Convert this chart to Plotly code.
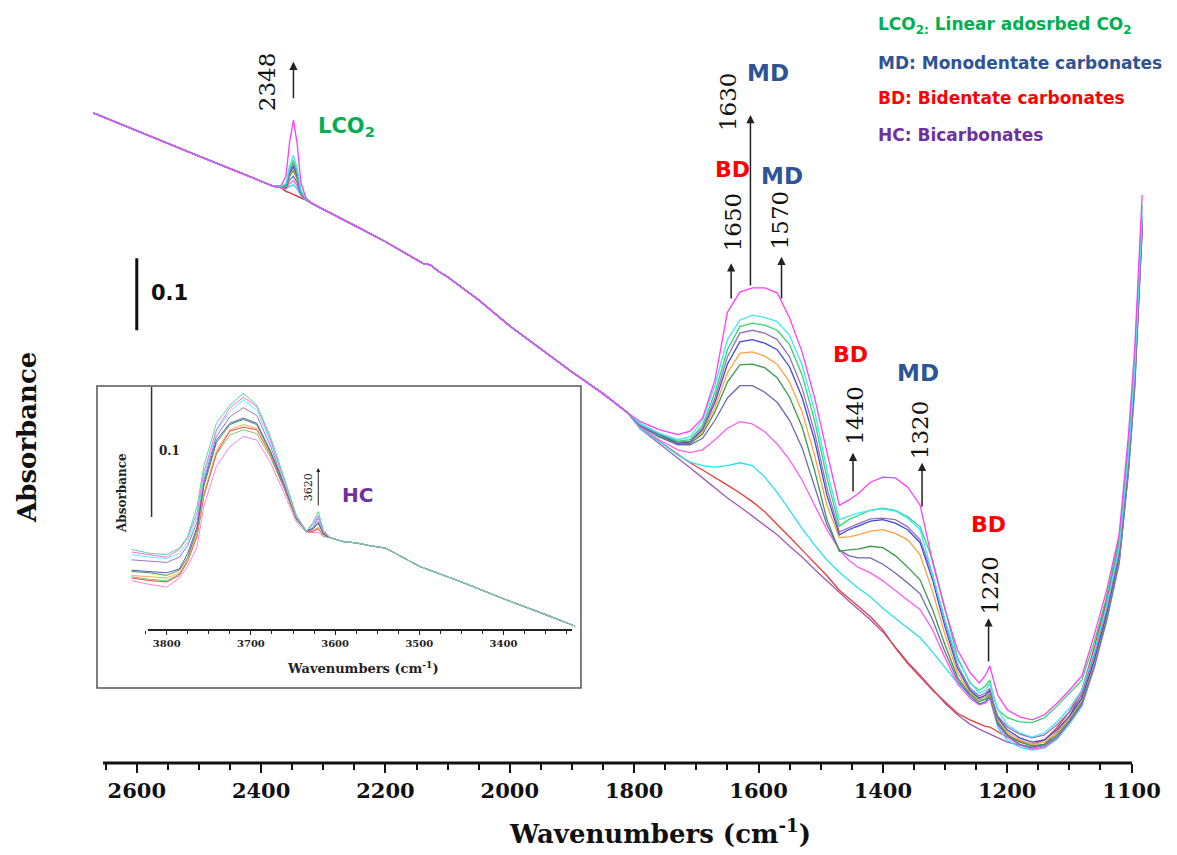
import plotly.graph_objects as go

# ---------------- main spectra (wavenumber cm-1, absorbance) ----------------
PRE_WN = [2670, 2600, 2500, 2420, 2380]
PRE_ABS = [0.903, 0.878, 0.843, 0.815, 0.801]
PEAK_WN = [2368, 2360, 2354, 2348, 2342, 2336, 2328]
MID_WN = [2320, 2300, 2250, 2200, 2160, 2140, 2128, 2115, 2100, 2050, 2000, 1950, 1900, 1850, 1810]
MID_ABS = [0.778, 0.769, 0.747, 0.724, 0.704, 0.694, 0.692, 0.683, 0.675, 0.643, 0.607, 0.575, 0.543, 0.513, 0.486]
BAND_WN = [1790, 1760, 1730, 1710, 1690, 1670, 1650, 1630, 1610, 1590, 1570, 1550, 1530, 1510, 1490,
           1470, 1455, 1440, 1420, 1400, 1380, 1360, 1340, 1320, 1300, 1280, 1260, 1245, 1235, 1228,
           1222, 1215, 1200, 1180, 1160, 1140, 1120, 1100, 1080, 1060, 1040, 1020, 1005, 995, 983]

S01_PEAK = [0.802, 0.815, 0.864, 0.893, 0.860, 0.806, 0.785]
S01_BAND = [0.474, 0.463, 0.456, 0.461, 0.479, 0.532, 0.626, 0.654, 0.660, 0.660, 0.653, 0.618, 0.571, 0.508, 0.432,
            0.358, 0.365, 0.374, 0.390, 0.397, 0.396, 0.383, 0.358, 0.279, 0.213, 0.157, 0.126, 0.111, 0.122, 0.135,
            0.115, 0.094, 0.074, 0.064, 0.060, 0.067, 0.083, 0.101, 0.121, 0.178, 0.240, 0.317, 0.456, 0.574, 0.789]
S02_PEAK = [0.801, 0.805, 0.830, 0.844, 0.826, 0.796, 0.784]
S02_BAND = [0.471, 0.458, 0.449, 0.453, 0.476, 0.525, 0.588, 0.615, 0.622, 0.619, 0.613, 0.594, 0.553, 0.490, 0.407,
            0.338, 0.343, 0.347, 0.351, 0.353, 0.350, 0.340, 0.324, 0.261, 0.199, 0.143, 0.113, 0.097, 0.101, 0.111,
            0.094, 0.074, 0.053, 0.042, 0.036, 0.042, 0.057, 0.076, 0.101, 0.154, 0.219, 0.299, 0.428, 0.546, 0.761]
S03_PEAK = [0.800, 0.803, 0.825, 0.837, 0.821, 0.794, 0.783]
S03_BAND = [0.471, 0.458, 0.447, 0.449, 0.469, 0.515, 0.574, 0.606, 0.611, 0.608, 0.601, 0.581, 0.539, 0.476, 0.396,
            0.329, 0.338, 0.344, 0.351, 0.354, 0.351, 0.342, 0.328, 0.282, 0.213, 0.147, 0.111, 0.101, 0.107, 0.115,
            0.092, 0.074, 0.063, 0.057, 0.056, 0.063, 0.079, 0.097, 0.115, 0.168, 0.231, 0.310, 0.442, 0.560, 0.775]
S04_PEAK = [0.800, 0.803, 0.822, 0.833, 0.818, 0.794, 0.783]
S04_BAND = [0.469, 0.457, 0.446, 0.447, 0.465, 0.507, 0.564, 0.597, 0.601, 0.597, 0.588, 0.564, 0.521, 0.460, 0.382,
            0.321, 0.326, 0.332, 0.339, 0.340, 0.338, 0.328, 0.310, 0.261, 0.196, 0.136, 0.104, 0.093, 0.097, 0.104,
            0.083, 0.065, 0.050, 0.040, 0.035, 0.039, 0.053, 0.071, 0.094, 0.150, 0.213, 0.292, 0.421, 0.539, 0.754]
S05_PEAK = [0.800, 0.802, 0.819, 0.829, 0.815, 0.793, 0.783]
S05_BAND = [0.469, 0.456, 0.444, 0.446, 0.463, 0.501, 0.554, 0.585, 0.588, 0.583, 0.574, 0.550, 0.508, 0.449, 0.372,
            0.317, 0.324, 0.329, 0.336, 0.338, 0.333, 0.324, 0.306, 0.254, 0.189, 0.132, 0.101, 0.090, 0.094, 0.101,
            0.081, 0.063, 0.046, 0.035, 0.029, 0.032, 0.046, 0.065, 0.090, 0.143, 0.208, 0.288, 0.418, 0.535, 0.751]
S06_PEAK = [0.800, 0.801, 0.817, 0.826, 0.813, 0.792, 0.783]
S06_BAND = [0.469, 0.456, 0.444, 0.446, 0.460, 0.494, 0.542, 0.569, 0.571, 0.565, 0.554, 0.529, 0.488, 0.428, 0.358,
            0.313, 0.314, 0.317, 0.322, 0.324, 0.319, 0.310, 0.289, 0.238, 0.178, 0.125, 0.099, 0.088, 0.092, 0.099,
            0.078, 0.060, 0.043, 0.032, 0.026, 0.029, 0.042, 0.063, 0.088, 0.140, 0.206, 0.285, 0.414, 0.532, 0.749]
S07_PEAK = [0.800, 0.801, 0.815, 0.823, 0.811, 0.792, 0.783]
S07_BAND = [0.469, 0.454, 0.444, 0.444, 0.457, 0.488, 0.529, 0.553, 0.554, 0.549, 0.535, 0.508, 0.467, 0.407, 0.338,
            0.294, 0.296, 0.297, 0.301, 0.299, 0.288, 0.272, 0.254, 0.213, 0.164, 0.119, 0.096, 0.085, 0.089, 0.096,
            0.076, 0.057, 0.040, 0.029, 0.024, 0.026, 0.039, 0.060, 0.085, 0.138, 0.203, 0.282, 0.410, 0.528, 0.746]
S08_PEAK = [0.800, 0.799, 0.810, 0.815, 0.806, 0.790, 0.783]
S08_BAND = [0.468, 0.453, 0.442, 0.442, 0.451, 0.476, 0.507, 0.524, 0.524, 0.515, 0.501, 0.476, 0.438, 0.386, 0.331,
            0.296, 0.288, 0.285, 0.285, 0.276, 0.264, 0.250, 0.235, 0.199, 0.154, 0.115, 0.093, 0.082, 0.085, 0.092,
            0.074, 0.054, 0.038, 0.026, 0.021, 0.024, 0.036, 0.057, 0.082, 0.135, 0.200, 0.279, 0.407, 0.525, 0.743]
S09_PEAK = [0.799, 0.798, 0.805, 0.809, 0.801, 0.789, 0.782]
S09_BAND = [0.467, 0.449, 0.435, 0.431, 0.435, 0.449, 0.465, 0.474, 0.471, 0.460, 0.443, 0.421, 0.393, 0.358, 0.324,
            0.296, 0.282, 0.272, 0.264, 0.253, 0.239, 0.226, 0.213, 0.185, 0.146, 0.110, 0.090, 0.081, 0.083, 0.090,
            0.072, 0.053, 0.036, 0.025, 0.019, 0.022, 0.035, 0.056, 0.081, 0.133, 0.199, 0.278, 0.404, 0.521, 0.740]
S10_PEAK = [0.799, 0.797, 0.801, 0.803, 0.797, 0.788, 0.782]
S10_BAND = [0.465, 0.446, 0.428, 0.418, 0.413, 0.411, 0.413, 0.417, 0.413, 0.397, 0.376, 0.351, 0.326, 0.303, 0.282,
            0.265, 0.254, 0.243, 0.231, 0.215, 0.201, 0.188, 0.174, 0.154, 0.132, 0.111, 0.096, 0.088, 0.088, 0.092,
            0.071, 0.049, 0.032, 0.022, 0.018, 0.021, 0.033, 0.054, 0.079, 0.132, 0.197, 0.276, 0.403, 0.518, 0.738]
S11_PEAK = [0.799, 0.794, 0.792, 0.790, 0.788, 0.785, 0.782]
S11_BAND = [0.465, 0.447, 0.428, 0.417, 0.407, 0.397, 0.386, 0.375, 0.363, 0.349, 0.332, 0.314, 0.296, 0.278, 0.260,
            0.240, 0.229, 0.219, 0.203, 0.185, 0.160, 0.138, 0.119, 0.101, 0.085, 0.069, 0.060, 0.054, 0.051, 0.050,
            0.047, 0.043, 0.036, 0.031, 0.026, 0.032, 0.049, 0.071, 0.101, 0.160, 0.229, 0.310, 0.432, 0.539, 0.757]
S12_PEAK = [0.799, 0.794, 0.792, 0.790, 0.788, 0.785, 0.782]
S12_BAND = [0.464, 0.444, 0.424, 0.410, 0.396, 0.382, 0.368, 0.356, 0.343, 0.331, 0.317, 0.301, 0.286, 0.269, 0.253,
            0.236, 0.225, 0.214, 0.199, 0.182, 0.161, 0.140, 0.122, 0.103, 0.083, 0.067, 0.054, 0.047, 0.043, 0.040,
            0.038, 0.035, 0.029, 0.025, 0.022, 0.026, 0.043, 0.065, 0.096, 0.154, 0.224, 0.303, 0.424, 0.532, 0.751]

MAIN_COLORS = ["#ff3dff", "#3fe6ff", "#2fd86e", "#9a72b4", "#3f46e0", "#ffa23c",
               "#3c9a4c", "#6a6aae", "#ff5cf0", "#28e0f2", "#f03a3a", "#a05ab8"]

MAIN_TICK_VALS = [2600, 2400, 2200, 2000, 1800, 1600, 1400, 1200, 1000]
MAIN_TICK_TEXT = ["2600", "2400", "2200", "2000", "1800", "1600", "1400", "1200", "1100"]
MAIN_MINOR_VALS = [2650, 2550, 2500, 2450, 2350, 2300, 2250, 2150, 2100, 2050, 1950, 1900, 1850,
                   1750, 1700, 1650, 1550, 1500, 1450, 1350, 1300, 1250, 1150, 1100, 1050]

# ---------------- inset spectra (OH region) ----------------
INSET_HEAD_WN = [3842, 3820, 3800, 3785, 3775, 3764, 3756, 3741, 3725, 3709, 3693, 3677, 3661, 3646, 3634, 3626, 3620, 3614]
INSET_TAIL_WN = [3606, 3590, 3575, 3560, 3540, 3500, 3450, 3400, 3350, 3315]
INSET_TAIL_ABS = [0.071, 0.068, 0.067, 0.065, 0.063, 0.049, 0.037, 0.024, 0.012, 0.003]

I01 = [0.062, 0.059, 0.058, 0.063, 0.072, 0.095, 0.126, 0.159, 0.173, 0.182, 0.173, 0.149, 0.118, 0.088, 0.076, 0.083, 0.091, 0.077]
I02 = [0.060, 0.058, 0.056, 0.062, 0.071, 0.090, 0.121, 0.154, 0.171, 0.179, 0.172, 0.147, 0.117, 0.088, 0.076, 0.082, 0.088, 0.076]
I03 = [0.058, 0.056, 0.055, 0.059, 0.068, 0.087, 0.118, 0.153, 0.168, 0.177, 0.169, 0.145, 0.115, 0.087, 0.076, 0.081, 0.087, 0.076]
I04 = [0.054, 0.053, 0.052, 0.056, 0.065, 0.083, 0.115, 0.149, 0.164, 0.171, 0.165, 0.142, 0.114, 0.087, 0.076, 0.079, 0.086, 0.075]
I05 = [0.046, 0.045, 0.044, 0.047, 0.059, 0.079, 0.113, 0.146, 0.159, 0.163, 0.159, 0.138, 0.113, 0.086, 0.076, 0.078, 0.083, 0.074]
I06 = [0.045, 0.044, 0.042, 0.046, 0.056, 0.077, 0.110, 0.144, 0.158, 0.162, 0.158, 0.137, 0.112, 0.086, 0.076, 0.078, 0.082, 0.074]
I07 = [0.042, 0.041, 0.040, 0.044, 0.054, 0.074, 0.105, 0.138, 0.154, 0.158, 0.155, 0.136, 0.112, 0.085, 0.076, 0.077, 0.079, 0.073]
I08 = [0.040, 0.038, 0.037, 0.042, 0.053, 0.072, 0.103, 0.136, 0.153, 0.156, 0.154, 0.135, 0.110, 0.085, 0.076, 0.076, 0.078, 0.073]
I09 = [0.041, 0.039, 0.038, 0.043, 0.054, 0.073, 0.103, 0.135, 0.150, 0.154, 0.151, 0.133, 0.110, 0.085, 0.076, 0.076, 0.078, 0.072]
I10 = [0.038, 0.035, 0.033, 0.040, 0.049, 0.064, 0.095, 0.126, 0.141, 0.149, 0.146, 0.129, 0.106, 0.083, 0.075, 0.075, 0.075, 0.072]

INSET_COLORS = ["#4fe08a", "#ff66ff", "#66eeff", "#9a78bb", "#5555cc",
                "#3f9a50", "#ffaa55", "#ee4444", "#77cc66", "#ff80e0"]
INSET_TICK_VALS = [3800, 3700, 3600, 3500, 3400]
INSET_TICK_TEXT = ["3800", "3700", "3600", "3500", "3400"]

# ---------------- figure ----------------
fig = go.Figure()

main_series = [(S12_PEAK, S12_BAND), (S11_PEAK, S11_BAND), (S10_PEAK, S10_BAND), (S09_PEAK, S09_BAND),
               (S08_PEAK, S08_BAND), (S07_PEAK, S07_BAND), (S06_PEAK, S06_BAND), (S05_PEAK, S05_BAND),
               (S04_PEAK, S04_BAND), (S03_PEAK, S03_BAND), (S02_PEAK, S02_BAND), (S01_PEAK, S01_BAND)]
main_colors = MAIN_COLORS[::-1]
wn_all = PRE_WN + PEAK_WN + MID_WN + BAND_WN
for (pk, bd), col in zip(main_series, main_colors):
    fig.add_trace(go.Scatter(x=wn_all, y=PRE_ABS + pk + MID_ABS + bd, mode="lines",
                             line=dict(color=col, width=1.3), xaxis="x", yaxis="y",
                             hoverinfo="skip"))

inset_series = [I10, I09, I08, I07, I06, I05, I04, I03, I02, I01]
inset_colors = INSET_COLORS[::-1]
for hd, col in zip(inset_series, inset_colors):
    fig.add_trace(go.Scatter(x=INSET_HEAD_WN + INSET_TAIL_WN, y=hd + INSET_TAIL_ABS, mode="lines",
                             line=dict(color=col, width=1.0), xaxis="x2", yaxis="y2",
                             hoverinfo="skip"))

SERIF = "DejaVu Serif"
SANS = "DejaVu Sans"
GREEN = "#00b050"
BLUE = "#2f5496"
RED = "#ff0000"
PURPLE = "#7030a0"

ann = []
# arrows (head at top)
for xh, yh, yt in [(2348, 0.974, 0.921), (1644, 0.694, 0.643), (1613, 0.900, 0.661), (1563, 0.703, 0.643),
                   (1448, 0.431, 0.375), (1337, 0.417, 0.354), (1230, 0.201, 0.139)]:
    ann.append(dict(x=xh, y=yh, ax=xh, ay=yt, xref="x", yref="y", axref="x", ayref="y", text="",
                    showarrow=True, arrowhead=2, arrowsize=1.1, arrowwidth=1.5, arrowcolor="#222"))
# rotated wavenumber labels
for txt, xw, ya in [("2348", 2390, 0.946), ("1650", 1641, 0.751), ("1630", 1649, 0.918), ("1570", 1565, 0.754),
                    ("1440", 1444, 0.483), ("1320", 1340, 0.4625), ("1220", 1227, 0.247)]:
    ann.append(dict(x=xw, y=ya, xref="x", yref="y", text=txt, showarrow=False, textangle=-90,
                    xanchor="center", yanchor="middle",
                    font=dict(family=SERIF, size=23, color="#111")))
# species labels
for txt, col, xw, ya, sz in [("<b>MD</b>", BLUE, 1584, 0.958, 23), ("<b>BD</b>", RED, 1642, 0.824, 22),
                             ("<b>MD</b>", BLUE, 1562, 0.815, 23), ("<b>BD</b>", RED, 1452, 0.567, 22),
                             ("<b>MD</b>", BLUE, 1343, 0.542, 23), ("<b>BD</b>", RED, 1230, 0.331, 22),
                             ("<b>LCO<sub>2</sub></b>", GREEN, 2262, 0.883, 21)]:
    ann.append(dict(x=xw, y=ya, xref="x", yref="y", text=txt, showarrow=False,
                    xanchor="center", yanchor="middle",
                    font=dict(family=SANS, size=sz, color=col)))
# key text (top right)
for txt, col, yp in [("<b>LCO<sub>2:</sub> Linear adosrbed CO<sub>2</sub></b>", GREEN, 0.967),
                     ("<b>MD: Monodentate carbonates</b>", BLUE, 0.9174),
                     ("<b>BD: Bidentate carbonates</b>", RED, 0.8716),
                     ("<b>HC: Bicarbonates</b>", PURPLE, 0.8231)]:
    ann.append(dict(x=0.745, y=yp, xref="paper", yref="paper", xanchor="left", yanchor="middle",
                    text=txt, showarrow=False,
                    font=dict(family=SANS, size=17, color=col)))
# scale bar label
ann.append(dict(x=2580, y=0.653, xref="x", yref="y", xanchor="left", yanchor="middle", text="<b>0.1</b>",
                showarrow=False, font=dict(family=SANS, size=21, color="#111")))
# axis titles
ann.append(dict(x=0.54, y=-0.0904, xref="paper", yref="paper", xanchor="center", yanchor="middle",
                text="<b>Wavenumbers (cm<sup>-1</sup>)</b>",
                showarrow=False, font=dict(family=SERIF, size=26, color="#111")))
ann.append(dict(x=-0.0618, y=0.4273, xref="paper", yref="paper", xanchor="center", yanchor="middle",
                text="<b>Absorbance</b>", textangle=-90,
                showarrow=False, font=dict(family=SERIF, size=26, color="#111")))
# inset texts
ann.append(dict(x=0.0285, y=0.3539, xref="paper", yref="paper", xanchor="center", yanchor="middle",
                text="<b>Absorbance</b>", textangle=-90,
                showarrow=False, font=dict(family=SERIF, size=12, color="#222")))
ann.append(dict(x=0.2576, y=0.1258, xref="paper", yref="paper", xanchor="center", yanchor="middle",
                text="<b>Wavenumbers (cm<sup>-1</sup>)</b>",
                showarrow=False, font=dict(family=SERIF, size=13, color="#222")))
ann.append(dict(x=3811, y=0.138, xref="x2", yref="y2", xanchor="left", yanchor="middle", text="<b>0.1</b>",
                showarrow=False, font=dict(family=SERIF, size=12, color="#222")))
ann.append(dict(x=3620, y=0.1246, ax=3620, ay=0.0946, xref="x2", yref="y2", axref="x2", ayref="y2", text="",
                showarrow=True, arrowhead=2, arrowsize=0.8, arrowwidth=1.0, arrowcolor="#222"))
ann.append(dict(x=3632, y=0.110, xref="x2", yref="y2", text="3620", textangle=-90, showarrow=False,
                xanchor="center", yanchor="middle",
                font=dict(family=SERIF, size=11, color="#222")))
ann.append(dict(x=3573, y=0.104, xref="x2", yref="y2", text="<b>HC</b>", showarrow=False,
                xanchor="center", yanchor="middle",
                font=dict(family=SANS, size=20, color=PURPLE)))

shapes = [
    # main x-axis line
    dict(type="line", xref="paper", yref="paper", x0=0.0105, x1=0.9886, y0=0, y1=0,
         line=dict(color="#111", width=3)),
    # main scale bar
    dict(type="line", xref="x", yref="y", x0=2600, x1=2600, y0=0.601, y1=0.701,
         line=dict(color="#111", width=3)),
    # inset frame
    dict(type="rect", xref="paper", yref="paper", x0=0.00475, x1=0.4648, y0=0.0983, y1=0.4941,
         line=dict(color="#555", width=1.5)),
    # inset x-axis line
    dict(type="line", xref="paper", yref="paper", x0=0.0532, x1=0.4563, y0=0.1743, y1=0.1743,
         line=dict(color="#222", width=2)),
    # inset scale bar
    dict(type="line", xref="x2", yref="y2", x0=3818, x1=3818, y0=0.087, y1=0.187,
         line=dict(color="#333", width=1.5)),
]

fig.update_layout(
    width=1177, height=855,
    margin=dict(l=92, r=33, t=0, b=92),
    paper_bgcolor="white", plot_bgcolor="white",
    showlegend=False,
    xaxis=dict(range=[2672, 980], domain=[0, 1], anchor="y", tickmode="array",
               tickvals=MAIN_TICK_VALS, ticktext=["<b>%s</b>" % t for t in MAIN_TICK_TEXT],
               ticks="outside", ticklen=9,
               tickwidth=2, tickcolor="#111", showline=False, showgrid=False, zeroline=False,
               tickfont=dict(family=SERIF, size=21, color="#111"),
               minor=dict(tickmode="array", tickvals=MAIN_MINOR_VALS, ticks="outside", ticklen=6,
                          tickwidth=1.5, tickcolor="#111", showgrid=False)),
    yaxis=dict(range=[0, 1.0597], domain=[0, 1], visible=False, fixedrange=True),
    xaxis2=dict(range=[3842, 3310], domain=[0.0374, 0.4632], anchor="y2", tickmode="array",
                tickvals=INSET_TICK_VALS, ticktext=["<b>%s</b>" % t for t in INSET_TICK_TEXT],
                ticks="outside", ticklen=4,
                tickwidth=1, tickcolor="#222", showline=False, showgrid=False, zeroline=False,
                tickfont=dict(family=SERIF, size=10, color="#222"),
                minor=dict(dtick=25, ticks="outside", ticklen=3, tickwidth=1, tickcolor="#222",
                           showgrid=False)),
    yaxis2=dict(range=[0, 0.1877], domain=[0.1743, 0.4941], anchor="x2", visible=False),
    annotations=ann,
    shapes=shapes,
)

fig.write_html("out.html", config={"displayModeBar": False},
               post_script="document.body.style.margin='0px';")
